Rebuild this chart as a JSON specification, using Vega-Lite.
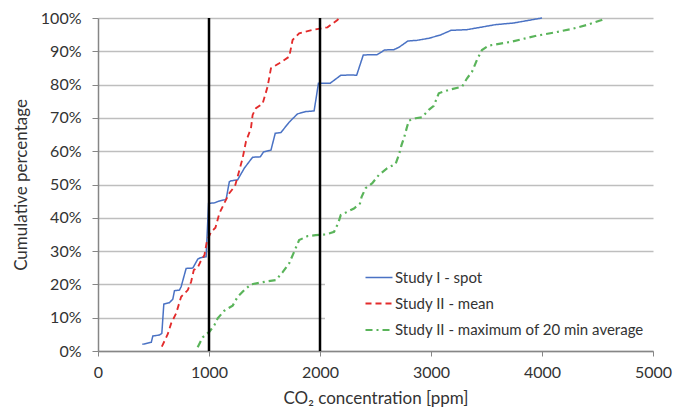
{
  "$schema": "https://vega.github.io/schema/vega-lite/v6.json",
  "width": 555,
  "height": 333,
  "autosize": {"type": "none"},
  "padding": {"left": 98, "top": 18, "right": 21, "bottom": 59},
  "background": "white",
  "config": {
    "view": {"stroke": null},
    "font": "Lato"
  },
  "encoding": {
    "x": {
      "field": "x",
      "type": "quantitative",
      "scale": {"domain": [0, 5000], "nice": false},
      "axis": {
        "values": [0, 1000, 2000, 3000, 4000, 5000],
        "format": "d",
        "grid": false,
        "domainColor": "#868686",
        "domainWidth": 1.5,
        "tickColor": "#868686",
        "tickSize": 5,
        "labelFontSize": 16,
        "labelColor": "#333333",
        "labelPadding": 8,
        "labelFlush": false,
        "title": "CO₂ concentration [ppm]",
        "titleFontSize": 17,
        "titleFontWeight": "normal",
        "titleColor": "#333333",
        "titlePadding": 10
      }
    },
    "y": {
      "field": "y",
      "type": "quantitative",
      "scale": {"domain": [0, 100], "nice": false},
      "axis": {
        "values": [0, 10, 20, 30, 40, 50, 60, 70, 80, 90, 100],
        "labelExpr": "datum.value + '%'",
        "labelOverlap": false,
        "grid": true,
        "gridColor": "#BEBEBE",
        "gridWidth": 1.5,
        "domainColor": "#868686",
        "domainWidth": 1.5,
        "tickColor": "#868686",
        "tickSize": 6,
        "labelFontSize": 16,
        "labelColor": "#333333",
        "labelPadding": 11,
        "labelFlush": false,
        "title": "Cumulative percentage",
        "titleFontSize": 17,
        "titleFontWeight": "normal",
        "titleColor": "#333333",
        "titlePadding": 10
      }
    }
  },
  "layer": [
    {
      "data": {
        "values": [
          {"s": "Study I - spot", "i": 0, "x": 399, "y": 2.0},
          {"s": "Study I - spot", "i": 1, "x": 480, "y": 2.6},
          {"s": "Study I - spot", "i": 2, "x": 494, "y": 4.5},
          {"s": "Study I - spot", "i": 3, "x": 554, "y": 4.8},
          {"s": "Study I - spot", "i": 4, "x": 575, "y": 5.3},
          {"s": "Study I - spot", "i": 5, "x": 593, "y": 14.1},
          {"s": "Study I - spot", "i": 6, "x": 644, "y": 14.5},
          {"s": "Study I - spot", "i": 7, "x": 674, "y": 15.6},
          {"s": "Study I - spot", "i": 8, "x": 689, "y": 18.1},
          {"s": "Study I - spot", "i": 9, "x": 734, "y": 18.3},
          {"s": "Study I - spot", "i": 10, "x": 749, "y": 19.3},
          {"s": "Study I - spot", "i": 11, "x": 794, "y": 24.8},
          {"s": "Study I - spot", "i": 12, "x": 854, "y": 24.9},
          {"s": "Study I - spot", "i": 13, "x": 899, "y": 27.6},
          {"s": "Study I - spot", "i": 14, "x": 923, "y": 28.0},
          {"s": "Study I - spot", "i": 15, "x": 974, "y": 28.3},
          {"s": "Study I - spot", "i": 16, "x": 996, "y": 44.3},
          {"s": "Study I - spot", "i": 17, "x": 1049, "y": 44.5},
          {"s": "Study I - spot", "i": 18, "x": 1088, "y": 45.0},
          {"s": "Study I - spot", "i": 19, "x": 1154, "y": 45.5},
          {"s": "Study I - spot", "i": 20, "x": 1183, "y": 50.8},
          {"s": "Study I - spot", "i": 21, "x": 1198, "y": 51.1},
          {"s": "Study I - spot", "i": 22, "x": 1258, "y": 51.4},
          {"s": "Study I - spot", "i": 23, "x": 1318, "y": 54.9},
          {"s": "Study I - spot", "i": 24, "x": 1393, "y": 58.2},
          {"s": "Study I - spot", "i": 25, "x": 1462, "y": 58.3},
          {"s": "Study I - spot", "i": 26, "x": 1492, "y": 59.8},
          {"s": "Study I - spot", "i": 27, "x": 1558, "y": 60.3},
          {"s": "Study I - spot", "i": 28, "x": 1597, "y": 65.4},
          {"s": "Study I - spot", "i": 29, "x": 1648, "y": 65.6},
          {"s": "Study I - spot", "i": 30, "x": 1722, "y": 68.7},
          {"s": "Study I - spot", "i": 31, "x": 1797, "y": 71.2},
          {"s": "Study I - spot", "i": 32, "x": 1872, "y": 71.9},
          {"s": "Study I - spot", "i": 33, "x": 1947, "y": 72.1},
          {"s": "Study I - spot", "i": 34, "x": 1986, "y": 80.4},
          {"s": "Study I - spot", "i": 35, "x": 2091, "y": 80.4},
          {"s": "Study I - spot", "i": 36, "x": 2187, "y": 82.8},
          {"s": "Study I - spot", "i": 37, "x": 2291, "y": 82.9},
          {"s": "Study I - spot", "i": 38, "x": 2330, "y": 82.8},
          {"s": "Study I - spot", "i": 39, "x": 2390, "y": 88.9},
          {"s": "Study I - spot", "i": 40, "x": 2516, "y": 89.0},
          {"s": "Study I - spot", "i": 41, "x": 2582, "y": 90.4},
          {"s": "Study I - spot", "i": 42, "x": 2666, "y": 90.5},
          {"s": "Study I - spot", "i": 43, "x": 2711, "y": 91.2},
          {"s": "Study I - spot", "i": 44, "x": 2792, "y": 93.1},
          {"s": "Study I - spot", "i": 45, "x": 2875, "y": 93.3},
          {"s": "Study I - spot", "i": 46, "x": 2980, "y": 93.9},
          {"s": "Study I - spot", "i": 47, "x": 3085, "y": 94.9},
          {"s": "Study I - spot", "i": 48, "x": 3181, "y": 96.3},
          {"s": "Study I - spot", "i": 49, "x": 3324, "y": 96.5},
          {"s": "Study I - spot", "i": 50, "x": 3445, "y": 97.2},
          {"s": "Study I - spot", "i": 51, "x": 3580, "y": 98.0},
          {"s": "Study I - spot", "i": 52, "x": 3744, "y": 98.5},
          {"s": "Study I - spot", "i": 53, "x": 3864, "y": 99.2},
          {"s": "Study I - spot", "i": 54, "x": 4000, "y": 100},
          {"s": "Study II - mean", "i": 0, "x": 575, "y": 1.3},
          {"s": "Study II - mean", "i": 1, "x": 629, "y": 5.1},
          {"s": "Study II - mean", "i": 2, "x": 659, "y": 8.3},
          {"s": "Study II - mean", "i": 3, "x": 704, "y": 11.3},
          {"s": "Study II - mean", "i": 4, "x": 749, "y": 16.3},
          {"s": "Study II - mean", "i": 5, "x": 809, "y": 18.3},
          {"s": "Study II - mean", "i": 6, "x": 839, "y": 20.8},
          {"s": "Study II - mean", "i": 7, "x": 863, "y": 24.3},
          {"s": "Study II - mean", "i": 8, "x": 899, "y": 25.1},
          {"s": "Study II - mean", "i": 9, "x": 923, "y": 26.8},
          {"s": "Study II - mean", "i": 10, "x": 959, "y": 28.8},
          {"s": "Study II - mean", "i": 11, "x": 980, "y": 32.8},
          {"s": "Study II - mean", "i": 12, "x": 1019, "y": 35.8},
          {"s": "Study II - mean", "i": 13, "x": 1058, "y": 37.0},
          {"s": "Study II - mean", "i": 14, "x": 1093, "y": 41.3},
          {"s": "Study II - mean", "i": 15, "x": 1138, "y": 44.4},
          {"s": "Study II - mean", "i": 16, "x": 1183, "y": 47.4},
          {"s": "Study II - mean", "i": 17, "x": 1235, "y": 49.6},
          {"s": "Study II - mean", "i": 18, "x": 1303, "y": 57.9},
          {"s": "Study II - mean", "i": 19, "x": 1333, "y": 62.9},
          {"s": "Study II - mean", "i": 20, "x": 1378, "y": 66.9},
          {"s": "Study II - mean", "i": 21, "x": 1393, "y": 70.9},
          {"s": "Study II - mean", "i": 22, "x": 1423, "y": 72.9},
          {"s": "Study II - mean", "i": 23, "x": 1483, "y": 74.3},
          {"s": "Study II - mean", "i": 24, "x": 1528, "y": 79.4},
          {"s": "Study II - mean", "i": 25, "x": 1558, "y": 84.9},
          {"s": "Study II - mean", "i": 26, "x": 1633, "y": 86.4},
          {"s": "Study II - mean", "i": 27, "x": 1723, "y": 88.4},
          {"s": "Study II - mean", "i": 28, "x": 1753, "y": 93.4},
          {"s": "Study II - mean", "i": 29, "x": 1812, "y": 95.4},
          {"s": "Study II - mean", "i": 30, "x": 1932, "y": 96.4},
          {"s": "Study II - mean", "i": 31, "x": 2067, "y": 97.2},
          {"s": "Study II - mean", "i": 32, "x": 2157, "y": 99.4},
          {"s": "Study II - mean", "i": 33, "x": 2172, "y": 100},
          {"s": "Study II - maximum of 20 min average", "i": 0, "x": 898, "y": 1.1},
          {"s": "Study II - maximum of 20 min average", "i": 1, "x": 943, "y": 4.1},
          {"s": "Study II - maximum of 20 min average", "i": 2, "x": 1004, "y": 5.8},
          {"s": "Study II - maximum of 20 min average", "i": 3, "x": 1049, "y": 7.8},
          {"s": "Study II - maximum of 20 min average", "i": 4, "x": 1078, "y": 9.8},
          {"s": "Study II - maximum of 20 min average", "i": 5, "x": 1138, "y": 12.1},
          {"s": "Study II - maximum of 20 min average", "i": 6, "x": 1213, "y": 13.6},
          {"s": "Study II - maximum of 20 min average", "i": 7, "x": 1258, "y": 16.3},
          {"s": "Study II - maximum of 20 min average", "i": 8, "x": 1318, "y": 18.3},
          {"s": "Study II - maximum of 20 min average", "i": 9, "x": 1378, "y": 20.0},
          {"s": "Study II - maximum of 20 min average", "i": 10, "x": 1468, "y": 20.6},
          {"s": "Study II - maximum of 20 min average", "i": 11, "x": 1603, "y": 21.3},
          {"s": "Study II - maximum of 20 min average", "i": 12, "x": 1662, "y": 23.6},
          {"s": "Study II - maximum of 20 min average", "i": 13, "x": 1722, "y": 26.3},
          {"s": "Study II - maximum of 20 min average", "i": 14, "x": 1767, "y": 29.8},
          {"s": "Study II - maximum of 20 min average", "i": 15, "x": 1812, "y": 33.3},
          {"s": "Study II - maximum of 20 min average", "i": 16, "x": 1887, "y": 34.5},
          {"s": "Study II - maximum of 20 min average", "i": 17, "x": 1962, "y": 34.8},
          {"s": "Study II - maximum of 20 min average", "i": 18, "x": 2052, "y": 35.0},
          {"s": "Study II - maximum of 20 min average", "i": 19, "x": 2127, "y": 35.8},
          {"s": "Study II - maximum of 20 min average", "i": 20, "x": 2165, "y": 38.5},
          {"s": "Study II - maximum of 20 min average", "i": 21, "x": 2187, "y": 40.8},
          {"s": "Study II - maximum of 20 min average", "i": 22, "x": 2246, "y": 41.8},
          {"s": "Study II - maximum of 20 min average", "i": 23, "x": 2306, "y": 42.8},
          {"s": "Study II - maximum of 20 min average", "i": 24, "x": 2360, "y": 44.3},
          {"s": "Study II - maximum of 20 min average", "i": 25, "x": 2375, "y": 46.3},
          {"s": "Study II - maximum of 20 min average", "i": 26, "x": 2411, "y": 48.9},
          {"s": "Study II - maximum of 20 min average", "i": 27, "x": 2471, "y": 50.4},
          {"s": "Study II - maximum of 20 min average", "i": 28, "x": 2531, "y": 52.9},
          {"s": "Study II - maximum of 20 min average", "i": 29, "x": 2606, "y": 54.9},
          {"s": "Study II - maximum of 20 min average", "i": 30, "x": 2681, "y": 56.2},
          {"s": "Study II - maximum of 20 min average", "i": 31, "x": 2711, "y": 58.9},
          {"s": "Study II - maximum of 20 min average", "i": 32, "x": 2735, "y": 61.9},
          {"s": "Study II - maximum of 20 min average", "i": 33, "x": 2756, "y": 63.9},
          {"s": "Study II - maximum of 20 min average", "i": 34, "x": 2785, "y": 67.4},
          {"s": "Study II - maximum of 20 min average", "i": 35, "x": 2801, "y": 69.2},
          {"s": "Study II - maximum of 20 min average", "i": 36, "x": 2861, "y": 69.9},
          {"s": "Study II - maximum of 20 min average", "i": 37, "x": 2920, "y": 70.2},
          {"s": "Study II - maximum of 20 min average", "i": 38, "x": 2980, "y": 72.4},
          {"s": "Study II - maximum of 20 min average", "i": 39, "x": 3025, "y": 73.6},
          {"s": "Study II - maximum of 20 min average", "i": 40, "x": 3070, "y": 77.4},
          {"s": "Study II - maximum of 20 min average", "i": 41, "x": 3160, "y": 78.4},
          {"s": "Study II - maximum of 20 min average", "i": 42, "x": 3280, "y": 79.4},
          {"s": "Study II - maximum of 20 min average", "i": 43, "x": 3325, "y": 81.9},
          {"s": "Study II - maximum of 20 min average", "i": 44, "x": 3370, "y": 83.9},
          {"s": "Study II - maximum of 20 min average", "i": 45, "x": 3414, "y": 87.4},
          {"s": "Study II - maximum of 20 min average", "i": 46, "x": 3459, "y": 90.4},
          {"s": "Study II - maximum of 20 min average", "i": 47, "x": 3519, "y": 91.7},
          {"s": "Study II - maximum of 20 min average", "i": 48, "x": 3729, "y": 92.9},
          {"s": "Study II - maximum of 20 min average", "i": 49, "x": 3939, "y": 94.6},
          {"s": "Study II - maximum of 20 min average", "i": 50, "x": 4119, "y": 95.7},
          {"s": "Study II - maximum of 20 min average", "i": 51, "x": 4268, "y": 96.7},
          {"s": "Study II - maximum of 20 min average", "i": 52, "x": 4403, "y": 97.9},
          {"s": "Study II - maximum of 20 min average", "i": 53, "x": 4537, "y": 99.4},
          {"s": "Study II - maximum of 20 min average", "i": 54, "x": 4564, "y": 100}
        ]
      },
      "mark": {"type": "line"},
      "encoding": {
        "order": {"field": "i", "type": "quantitative"},
        "color": {
          "field": "s",
          "type": "nominal",
          "scale": {
            "domain": ["Study I - spot", "Study II - mean", "Study II - maximum of 20 min average"],
            "range": ["#4A72C4", "#E32B2B", "#5AB45A"]
          },
          "legend": {
            "title": null,
            "orient": "none",
            "legendX": 227,
            "legendY": 235,
            "fillColor": "white",
            "padding": 10,
            "symbolType": "stroke",
            "symbolSize": 729,
            "symbolStrokeWidth": 2,
            "symbolOffset": 29,
            "labelOffset": 1,
            "labelFontSize": 15,
            "labelColor": "#333333",
            "labelLimit": 400,
            "rowPadding": 3
          }
        },
        "strokeDash": {
          "field": "s",
          "type": "nominal",
          "scale": {
            "domain": ["Study I - spot", "Study II - mean", "Study II - maximum of 20 min average"],
            "range": [[1, 0], [6, 4], [7, 4, 2, 4]]
          },
          "legend": {
            "title": null,
            "orient": "none",
            "legendX": 227,
            "legendY": 235,
            "fillColor": "white",
            "padding": 10,
            "symbolType": "stroke",
            "symbolSize": 729,
            "symbolStrokeWidth": 2,
            "symbolOffset": 29,
            "labelOffset": 1,
            "labelFontSize": 15,
            "labelColor": "#333333",
            "labelLimit": 400,
            "rowPadding": 3
          }
        },
        "strokeWidth": {
          "field": "s",
          "type": "ordinal",
          "scale": {
            "domain": ["Study I - spot", "Study II - mean", "Study II - maximum of 20 min average"],
            "range": [1.5, 2.2, 2.2]
          },
          "legend": null
        }
      }
    },
    {
      "data": {"values": [{"x": 1000, "y": 0, "y2": 100}, {"x": 2000, "y": 0, "y2": 100}]},
      "mark": {"type": "rule", "color": "black", "strokeWidth": 2.5},
      "encoding": {
        "y2": {"field": "y2"}
      }
    }
  ]
}
